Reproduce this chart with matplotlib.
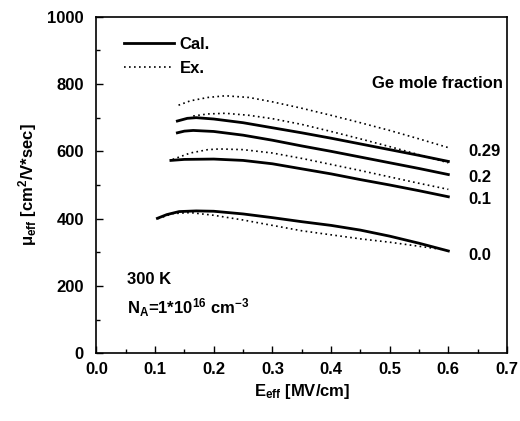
import matplotlib
matplotlib.use("Agg")
import matplotlib.pyplot as plt
from matplotlib.ticker import MultipleLocator

# --------- fonts ---------
plt.rcParams["font.family"] = ["Liberation Sans", "DejaVu Sans"]
plt.rcParams["font.weight"] = "bold"
plt.rcParams["mathtext.fontset"] = "custom"
plt.rcParams["mathtext.rm"] = "Liberation Sans:bold"
plt.rcParams["mathtext.it"] = "Liberation Sans:bold"
plt.rcParams["mathtext.bf"] = "Liberation Sans:bold"

# --------- data ---------
fractions = ["0.29", "0.2", "0.1", "0.0"]

# calculated (solid)
cal_x_029 = [0.138, 0.155, 0.17, 0.2, 0.25, 0.3, 0.35, 0.4, 0.45, 0.5, 0.55, 0.6]
cal_y_029 = [690, 698, 700, 696, 685, 670, 655, 639, 622, 605, 588, 570]
cal_x_02 = [0.138, 0.15, 0.165, 0.2, 0.25, 0.3, 0.35, 0.4, 0.45, 0.5, 0.55, 0.6]
cal_y_02 = [655, 660, 662, 659, 648, 633, 616, 600, 583, 566, 549, 531]
cal_x_01 = [0.127, 0.15, 0.2, 0.25, 0.3, 0.35, 0.4, 0.45, 0.5, 0.55, 0.6]
cal_y_01 = [573, 576, 577, 573, 563, 548, 533, 516, 500, 483, 465]
cal_x_00 = [0.104, 0.12, 0.141, 0.17, 0.2, 0.25, 0.3, 0.35, 0.4, 0.45, 0.5, 0.55, 0.6]
cal_y_00 = [401, 412, 421, 423, 422, 414, 403, 391, 380, 366, 348, 327, 304]

# experimental (dotted)
ex_x_029 = [0.14, 0.16, 0.19, 0.22, 0.26, 0.3, 0.35, 0.4, 0.45, 0.5, 0.55, 0.6]
ex_y_029 = [737, 750, 760, 765, 760, 747, 728, 707, 685, 662, 637, 611]
ex_x_02 = [0.165, 0.19, 0.22, 0.26, 0.3, 0.35, 0.4, 0.45, 0.5, 0.55, 0.6]
ex_y_02 = [705, 711, 713, 707, 697, 680, 659, 637, 614, 590, 566]
ex_x_01 = [0.13, 0.16, 0.19, 0.21, 0.25, 0.3, 0.35, 0.4, 0.45, 0.5, 0.55, 0.6]
ex_y_01 = [576, 595, 605, 607, 605, 595, 579, 561, 543, 524, 505, 487]
ex_x_00 = [0.105, 0.13, 0.16, 0.2, 0.25, 0.3, 0.35, 0.4, 0.45, 0.5, 0.55, 0.6]
ex_y_00 = [400, 415, 418, 410, 396, 380, 364, 352, 340, 330, 318, 306]

cal_curves = [(cal_x_029, cal_y_029), (cal_x_02, cal_y_02),
              (cal_x_01, cal_y_01), (cal_x_00, cal_y_00)]
ex_curves = [(ex_x_029, ex_y_029), (ex_x_02, ex_y_02),
             (ex_x_01, ex_y_01), (ex_x_00, ex_y_00)]
label_y = [598, 522, 457, 292]   # where the fraction labels sit

# --------- plot ---------
fig = plt.figure(figsize=(5.2, 4.21), dpi=100)
ax = fig.add_axes([0.1854, 0.1608, 0.7896, 0.7996])

for i, (xs, ys) in enumerate(cal_curves):
    ax.plot(xs, ys, color="black", lw=2.0, label="Cal." if i == 0 else None)
for i, (xs, ys) in enumerate(ex_curves):
    ax.plot(xs, ys, color="black", lw=1.2, linestyle=(0, (1, 2.0)),
            label="Ex." if i == 0 else None)

ax.set_xlim(0.0, 0.7)
ax.set_ylim(0, 1000)
ax.xaxis.set_major_locator(MultipleLocator(0.1))
ax.xaxis.set_minor_locator(MultipleLocator(0.05))
ax.yaxis.set_major_locator(MultipleLocator(200))
ax.yaxis.set_minor_locator(MultipleLocator(100))
ax.tick_params(which="both", direction="in", top=False, right=False,
               labelsize=12, width=1)
ax.tick_params(which="major", length=5)
ax.tick_params(which="minor", length=3)
ax.tick_params(axis="x", pad=6)
ax.tick_params(axis="y", pad=9)
ax.set_xticklabels([f"{v:.1f}" for v in ax.get_xticks()], fontweight="bold")
for s in ax.spines.values():
    s.set_linewidth(1.2)

ax.legend(loc="upper left", frameon=False, fontsize=12, handlelength=3.0,
          handletextpad=0.3, borderaxespad=0.3, labelspacing=0.55,
          bbox_to_anchor=(0.04, 0.975))

ax.text(0.99, 800, "Ge mole fraction", ha="right", va="center", fontsize=12,
        fontweight="bold", transform=ax.get_yaxis_transform())
for lab, yv in zip(fractions, label_y):
    ax.text(0.635, yv, lab, ha="left", va="center", fontsize=12,
            fontweight="bold")

ax.text(0.053, 218, "300 K", fontsize=12, fontweight="bold", va="center")
ax.text(0.053, 135, r"N$_{\mathregular{A}}$=1*10$^{\mathregular{16}}$ cm$^{\mathregular{-3}}$",
        fontsize=12, fontweight="bold", va="center")

ax.set_xlabel(r"E$_{\mathregular{eff}}$ [MV/cm]", fontsize=12,
              fontweight="bold", labelpad=4)
ax.set_ylabel(r"μ$_{\mathregular{eff}}$ [cm$^{\mathregular{2}}$/V*sec]",
              fontsize=12, fontweight="bold", labelpad=6)

fig.savefig("out.png", dpi=100)
